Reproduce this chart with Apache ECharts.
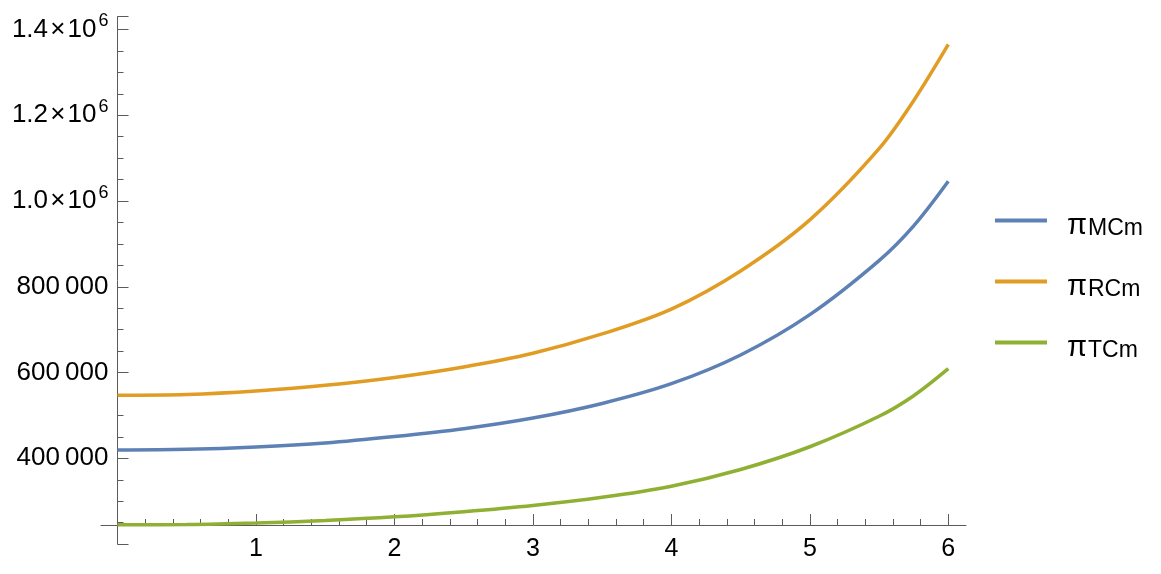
<!DOCTYPE html>
<html>
<head>
<meta charset="utf-8">
<script src="https://cdn.jsdelivr.net/npm/echarts@6/dist/echarts.min.js"></script>
<style>
html,body{margin:0;padding:0;background:#fff;}
#chart{width:1161px;height:574px;}
</style>
</head>
<body>
<div id="chart"></div>
<script>
// ---- data ----
const xValues = [0, 0.5, 1, 1.5, 2, 2.5, 3, 3.5, 4, 4.5, 5, 5.5, 5.75, 6];
const piMCm = [419300, 420900, 426500, 435800, 450800, 469100, 494000, 528000, 574000, 641000, 735000, 861000, 942000, 1046000];
const piRCm = [547000, 548700, 556800, 570300, 588600, 613000, 645000, 690000, 748000, 837000, 956000, 1122000, 1234000, 1365000];
const piTCm = [245000, 245500, 249000, 255000, 263500, 275500, 290000, 309000, 335000, 374000, 427000, 498000, 546000, 609000];
const seriesNames = ['πMCm', 'πRCm', 'πTCm'];
const seriesSubs = ['MCm', 'RCm', 'TCm'];
const xTickLabels = ['', '1', '2', '3', '4', '5', '6'];
const yTickValues = [400000, 600000, 800000, 1000000, 1200000, 1400000];
const yTickLabels = ['400\u2009000', '600\u2009000', '800\u2009000', '1.0', '1.2', '1.4'];

const colors = ['#5E81B5', '#E19C24', '#8FB032'];
const axisColor = '#5b5b5b';
const font = "'Liberation Sans', Arial, sans-serif";

function pairs(ys) { return xValues.map((x, i) => [x, ys[i]]); }

const chart = echarts.init(document.getElementById('chart'), null, {renderer: 'canvas'});
chart.setOption({
  animation: false,
  backgroundColor: '#fff',
  color: colors,
  grid: [
    {left: 117.5, right: 212.7, top: 16.6, bottom: 29.9},
    {left: 117.5, right: 212.7, top: 300, bottom: 49},
    {left: 101, right: 195, top: 300, bottom: 49}
  ],
  xAxis: [
    {gridIndex: 0, type: 'value', min: 0, max: 6, show: false},
    {gridIndex: 1, type: 'value', min: 0, max: 6, interval: 1,
      axisLine: {show: false},
      splitLine: {show: false},
      axisTick: {show: true, inside: true, length: 11, lineStyle: {color: axisColor, width: 1}},
      minorTick: {show: true, splitNumber: 5, length: 6, lineStyle: {color: axisColor, width: 1}},
      axisLabel: {show: true, margin: 12, color: '#000', fontFamily: font, fontSize: 25,
        formatter: v => xTickLabels[Math.round(v)] || ''}
    },
    {gridIndex: 2, type: 'value', min: -0.12, max: 6.13,
      axisLine: {show: true, lineStyle: {color: axisColor, width: 1}},
      axisTick: {show: false}, axisLabel: {show: false}, splitLine: {show: false}}
  ],
  yAxis: [
    {gridIndex: 0, type: 'value', min: 200000, max: 1430000, interval: 200000,
      axisLine: {show: true, lineStyle: {color: axisColor, width: 1}},
      splitLine: {show: false},
      axisTick: {show: true, inside: true, length: 11, lineStyle: {color: axisColor, width: 1}},
      minorTick: {show: true, splitNumber: 4, length: 6, lineStyle: {color: axisColor, width: 1}},
      axisLabel: {show: true, margin: 9, color: '#000', fontFamily: font, fontSize: 26,
        formatter: function (v) {
          const i = yTickValues.indexOf(v);
          if (i < 0) return '';
          if (v >= 1000000) return '{m|' + yTickLabels[i] + '\u200a×\u200a10}{s|6}';
          return '{m|' + yTickLabels[i] + '}';
        },
        rich: {
          m: {fontFamily: font, fontSize: 26, color: '#000', lineHeight: 28},
          s: {fontFamily: font, fontSize: 18, color: '#000', lineHeight: 20, padding: [0, 0, 16, 2]}
        }
      }
    },
    {gridIndex: 1, type: 'value', min: 0, max: 1, show: false},
    {gridIndex: 2, type: 'value', min: 0, max: 1, show: false}
  ],
  legend: {
    orient: 'vertical',
    left: 995,
    top: 201,
    padding: 0,
    itemWidth: 52,
    itemHeight: 4,
    itemGap: 22,
    icon: 'rect',
    data: seriesNames,
    formatter: function (name) {
      const i = seriesNames.indexOf(name);
      return '{p|π}{s|' + seriesSubs[i] + '}';
    },
    textStyle: {
      rich: {
        p: {fontFamily: font, fontSize: 29, color: '#000', lineHeight: 36, padding: [10, 0, 0, 15]},
        s: {fontFamily: font, fontSize: 23, color: '#000', lineHeight: 36, padding: [16, 0, 0, 1]}
      }
    }
  },
  series: [
    {name: seriesNames[0], type: 'line', xAxisIndex: 0, yAxisIndex: 0, data: pairs(piMCm), smooth: 0.33, symbol: 'none', lineStyle: {width: 3.5, color: colors[0]}, clip: false},
    {name: seriesNames[1], type: 'line', xAxisIndex: 0, yAxisIndex: 0, data: pairs(piRCm), smooth: 0.33, symbol: 'none', lineStyle: {width: 3.5, color: colors[1]}, clip: false},
    {name: seriesNames[2], type: 'line', xAxisIndex: 0, yAxisIndex: 0, data: pairs(piTCm), smooth: 0.33, symbol: 'none', lineStyle: {width: 3.5, color: colors[2]}, clip: false}
  ]
});
</script>
</body>
</html>
